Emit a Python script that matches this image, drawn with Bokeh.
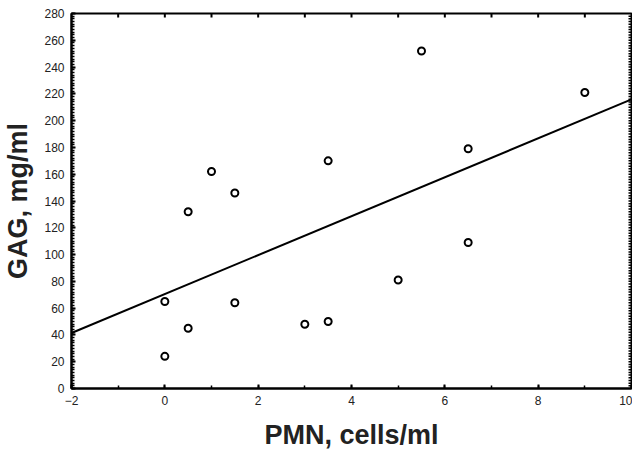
import numpy as np
from bokeh.plotting import figure
from bokeh.models import LinearAxis, SingleIntervalTicker, Range1d
from bokeh.embed import file_html
from bokeh.resources import INLINE

# Data
pmn = [0, 0, 0.5, 0.5, 1, 1.5, 1.5, 3, 3.5, 3.5, 5, 5.5, 6.5, 6.5, 9]
gag = [65, 24, 45, 132, 162, 146, 64, 48, 50, 170, 81, 252, 179, 109, 221]
x_range = (-2, 10)
y_range = (0, 280)
x_title = "PMN, cells/ml"
y_title = "GAG, mg/ml"
top_ticks = list(range(-1, 10))          # unlabeled ticks along the top edge
right_ticks = list(range(2, 280, 2))     # unlabeled ticks along the right edge

slope, intercept = np.polyfit(pmn, gag, 1)
fit_x = [x_range[0], x_range[1]]
fit_y = [intercept + slope * xv for xv in fit_x]

p = figure(frame_width=560, frame_height=375, output_backend="svg", toolbar_location=None,
           x_range=Range1d(*x_range), y_range=Range1d(*y_range),
           min_border_left=68, min_border_right=1, min_border_top=13, min_border_bottom=52,
           x_axis_location=None, y_axis_location=None)
p.background_fill_color = "white"
p.border_fill_color = "white"
p.outline_line_color = "black"
p.outline_line_width = 2
p.xgrid.visible = False
p.ygrid.visible = False

FONT = "Liberation Sans"

def style(ax):
    ax.axis_line_color = "black"
    ax.axis_line_width = 2
    ax.major_tick_line_color = "black"
    ax.minor_tick_line_color = "black"
    ax.major_tick_line_width = 2
    ax.minor_tick_line_width = 1.5
    ax.major_tick_in = 4
    ax.major_tick_out = 0
    ax.minor_tick_in = 3
    ax.minor_tick_out = 0
    ax.major_label_text_font = FONT
    ax.major_label_text_font_size = "12px"
    ax.major_label_text_color = "#222222"
    ax.major_label_standoff = 7
    ax.axis_label_text_font = FONT
    ax.axis_label_text_font_style = "bold"
    ax.axis_label_text_font_size = "27px"
    ax.axis_label_text_color = "#222222"

left = LinearAxis(ticker=SingleIntervalTicker(interval=20, num_minor_ticks=10))
style(left)
left.axis_label = y_title
left.axis_label_standoff = 8
p.add_layout(left, "left")

bottom = LinearAxis(ticker=SingleIntervalTicker(interval=2, num_minor_ticks=2))
style(bottom)
bottom.axis_label = x_title
bottom.axis_label_standoff = 12
p.add_layout(bottom, "below")

# inward ticks on the top and right edges
p.ray(x=top_ticks, y=[y_range[1]] * len(top_ticks), length=4, length_units="screen",
      angle=-np.pi / 2, line_color="black", line_width=2)
p.ray(x=[x_range[1]] * len(right_ticks), y=right_ticks, length=3, length_units="screen",
      angle=np.pi, line_color="black", line_width=1.5)

p.line(fit_x, fit_y, line_color="black", line_width=2)
p.scatter(pmn, gag, marker="circle", size=7, line_color="black", line_width=2,
          fill_color="white")

open("out.html", "w").write(file_html(p, INLINE))
